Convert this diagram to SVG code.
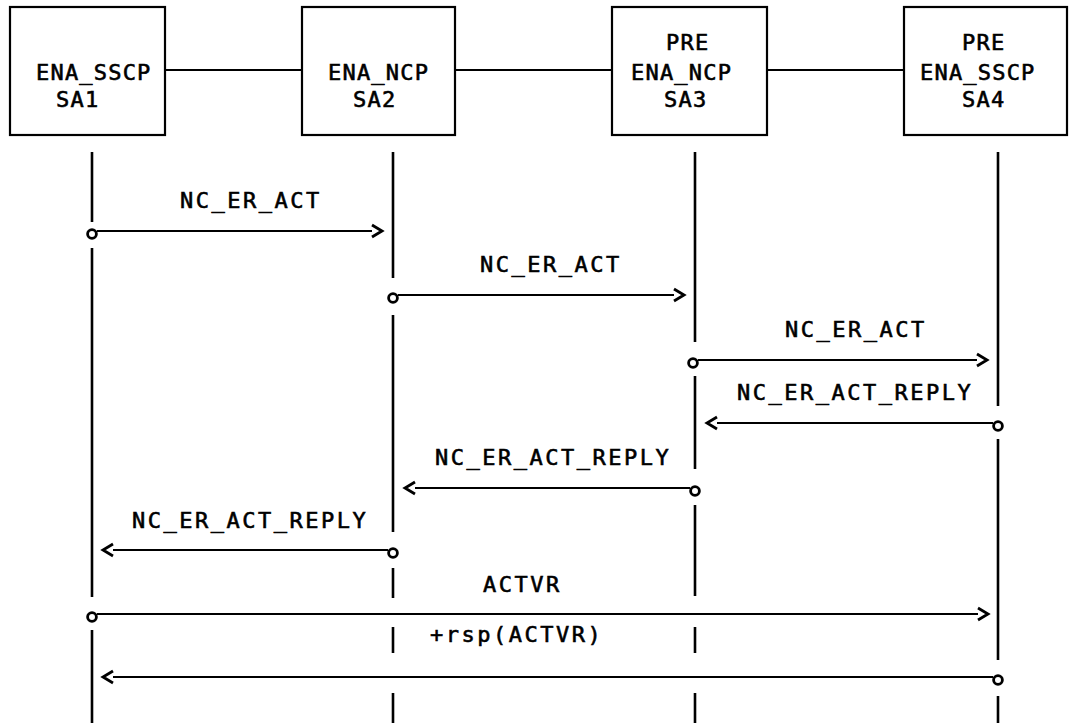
<svg xmlns="http://www.w3.org/2000/svg" width="1070" height="723" viewBox="0 0 1070 723">
<defs>
<style>
.box{fill:#fff;stroke:#000;stroke-width:2.2}
.bt{font-family:"DejaVu Sans Mono","Liberation Mono",monospace;font-size:22px;letter-spacing:1.2px;fill:#000;stroke:#000;stroke-width:0.6}
.lt{font-family:"DejaVu Sans Mono","Liberation Mono",monospace;font-size:22px;letter-spacing:2.5px;fill:#000;stroke:#000;stroke-width:0.6}
.ll{stroke:#000;stroke-width:2.6;fill:none}
.ln{stroke:#000;stroke-width:2;fill:none}
.hd{stroke:#000;stroke-width:2.8;fill:none;stroke-linejoin:miter}
.cr{stroke:#000;stroke-width:2.8;fill:#fff}
</style>
</defs>
<g id="links">
<line class="ln" x1="165" y1="70" x2="302" y2="70"/>
<line class="ln" x1="455" y1="70" x2="612" y2="70"/>
<line class="ln" x1="767" y1="70" x2="904" y2="70"/>
</g>
<g id="SA1">
<rect class="box" x="10" y="7" width="155" height="128"/>
<text class="bt" x="36" y="80">ENA_SSCP</text>
<text class="bt" x="56" y="107">SA1</text>
</g>
<g id="SA2">
<rect class="box" x="302" y="7" width="153" height="128"/>
<text class="bt" x="328" y="80">ENA_NCP</text>
<text class="bt" x="353" y="107">SA2</text>
</g>
<g id="SA3">
<rect class="box" x="612" y="7" width="155" height="128"/>
<text class="bt" x="666" y="50">PRE</text>
<text class="bt" x="631" y="80">ENA_NCP</text>
<text class="bt" x="664" y="107">SA3</text>
</g>
<g id="SA4">
<rect class="box" x="904" y="7" width="163" height="128"/>
<text class="bt" x="962" y="50">PRE</text>
<text class="bt" x="920" y="80">ENA_SSCP</text>
<text class="bt" x="962" y="107">SA4</text>
</g>
<g id="lifelines">
<path class="ll" d="M92 152V222M92 248V597M92 630V723"/>
<path class="ll" d="M393 152V278M393 315V532M393 568V598M393 627V653M393 693V723"/>
<path class="ll" d="M695 152V342M695 376V469M695 505V596M695 627V653M695 693V723"/>
<path class="ll" d="M998 152V406M998 439V660M998 696V723"/>
</g>
<g id="connectors">
<line class="ln" x1="97" y1="231" x2="372" y2="231"/>
<path class="hd" d="M372 225L382 231L372 237"/>
<circle class="cr" cx="92" cy="234" r="4.4"/>
<line class="ln" x1="398" y1="295" x2="674" y2="295"/>
<path class="hd" d="M674 289L684 295L674 301"/>
<circle class="cr" cx="393" cy="298" r="4.4"/>
<line class="ln" x1="698" y1="360" x2="977" y2="360"/>
<path class="hd" d="M977 354L987 360L977 366"/>
<circle class="cr" cx="693" cy="363" r="4.4"/>
<line class="ln" x1="993" y1="423" x2="717" y2="423"/>
<path class="hd" d="M717 417L707 423L717 429"/>
<circle class="cr" cx="998" cy="426" r="4.4"/>
<line class="ln" x1="690" y1="488" x2="415" y2="488"/>
<path class="hd" d="M415 482L405 488L415 494"/>
<circle class="cr" cx="695" cy="491" r="4.4"/>
<line class="ln" x1="388" y1="550" x2="113" y2="550"/>
<path class="hd" d="M113 544L103 550L113 556"/>
<circle class="cr" cx="393" cy="553" r="4.4"/>
<line class="ln" x1="97" y1="614" x2="978" y2="614"/>
<path class="hd" d="M978 608L988 614L978 620"/>
<circle class="cr" cx="92" cy="617" r="4.4"/>
<line class="ln" x1="993" y1="677" x2="113" y2="677"/>
<path class="hd" d="M113 671L103 677L113 683"/>
<circle class="cr" cx="998" cy="680" r="4.4"/>
</g>
<g id="labels">
<text class="lt" x="180" y="208">NC_ER_ACT</text>
<text class="lt" x="480" y="272">NC_ER_ACT</text>
<text class="lt" x="785" y="337">NC_ER_ACT</text>
<text class="lt" x="737" y="400">NC_ER_ACT_REPLY</text>
<text class="lt" x="435" y="465">NC_ER_ACT_REPLY</text>
<text class="lt" x="132" y="528">NC_ER_ACT_REPLY</text>
<text class="lt" x="483" y="592">ACTVR</text>
<text class="lt" x="430" y="642">+rsp(ACTVR)</text>
</g>
</svg>
